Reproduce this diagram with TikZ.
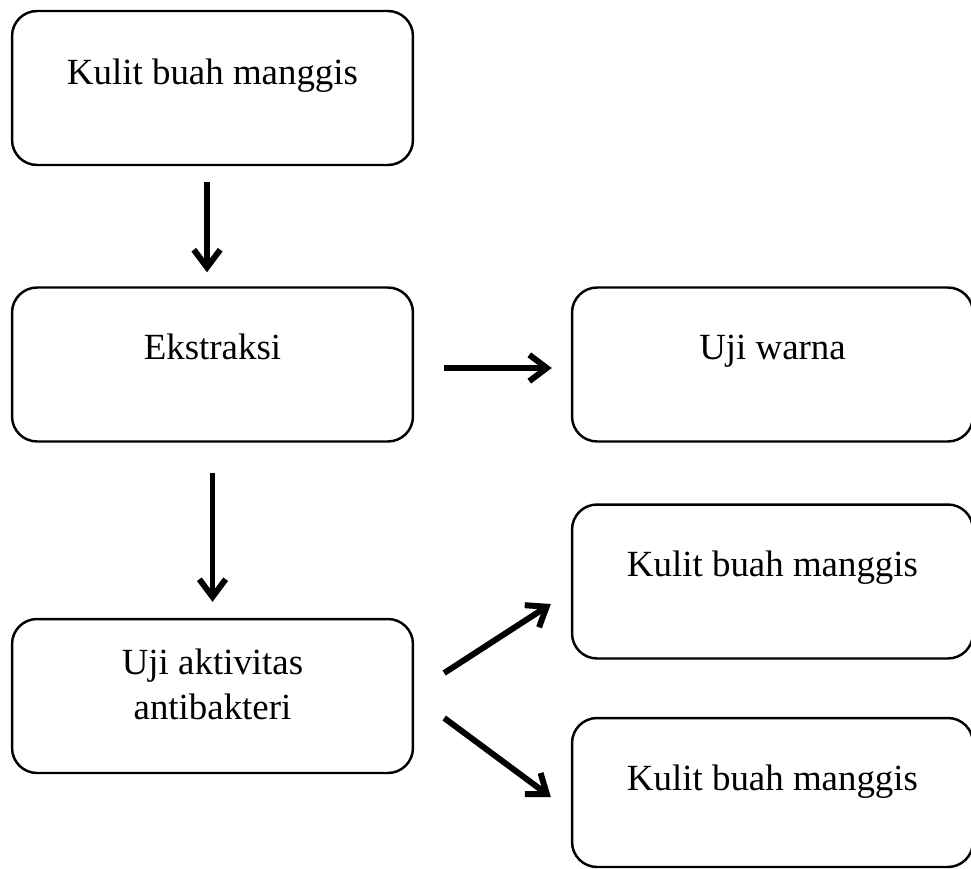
\documentclass[tikz,border=0pt]{standalone}
\usepackage{fontspec}
\setmainfont{Liberation Serif}
\usetikzlibrary{arrows.meta,positioning,calc}
\tikzset{
  kotak/.style={draw,line width=1.4pt,rounded corners=0.5cm,minimum width=8.02cm,minimum height=3.08cm,inner sep=0pt},
  teks/.style={inner sep=0pt,font=\fontsize{21}{25.6}\selectfont,align=center},
  panah/.style={line width=3.4pt,-{Straight Barb[length=10pt,width=15pt]}},
}

\begin{document}
\begin{tikzpicture}[x=0.02cm,y=-0.02cm]
  \useasboundingbox (0,0) rectangle (971,869);
  % kotak
  \node[kotak] (kulit) at (212.5,88) {};
  \node[kotak] (ekstraksi) at (212.5,364.5) {};
  \node[kotak] (ujiwarna) at (772.5,364.5) {};
  \node[kotak] (antibakteri) at (212.5,696) {};
  \node[kotak] (kulitatas) at (772.5,581.5) {};
  \node[kotak,minimum height=2.98cm] (kulitbawah) at (772.5,792.5) {};
  % teks
  \node[teks,anchor=base] (tkulit) at ([yshift=-1.5cm]kulit.north) {Kulit buah manggis};
  \node[teks,anchor=base] (tekstraksi) at ([yshift=-1.46cm]ekstraksi.north) {Ekstraksi};
  \node[teks,anchor=base] (tujiwarna) at ([yshift=-1.46cm]ujiwarna.north) {Uji warna};
  \node[teks,anchor=north] (tantibakteri) at ([yshift=-0.61cm]antibakteri.north) {Uji aktivitas\\antibakteri};
  \node[teks,anchor=base] (tkulitatas) at ([yshift=-1.46cm]kulitatas.north) {Kulit buah manggis};
  \node[teks,anchor=base] (tkulitbawah) at ([yshift=-1.48cm]kulitbawah.north) {Kulit buah manggis};
  % panah
  \draw[panah] ([xshift=-0.11cm,yshift=-0.32cm]kulit.south) -- ([xshift=-0.11cm,yshift=0.28cm]ekstraksi.north);
  \draw[panah] ([yshift=-0.6cm]ekstraksi.south) -- ([yshift=0.32cm]antibakteri.north);
  \draw[panah] ([xshift=0.6cm,yshift=-0.07cm]ekstraksi.east) -- ([xshift=-0.38cm,yshift=-0.07cm]ujiwarna.west);
  \draw[panah] ([shift={(30,-23)}]antibakteri.east) -- ([shift={(-20,22.5)}]kulitatas.west);
  \draw[panah] ([shift={(30,22)}]antibakteri.east) -- ([shift={(-20,4.5)}]kulitbawah.west);
\end{tikzpicture}
\end{document}
